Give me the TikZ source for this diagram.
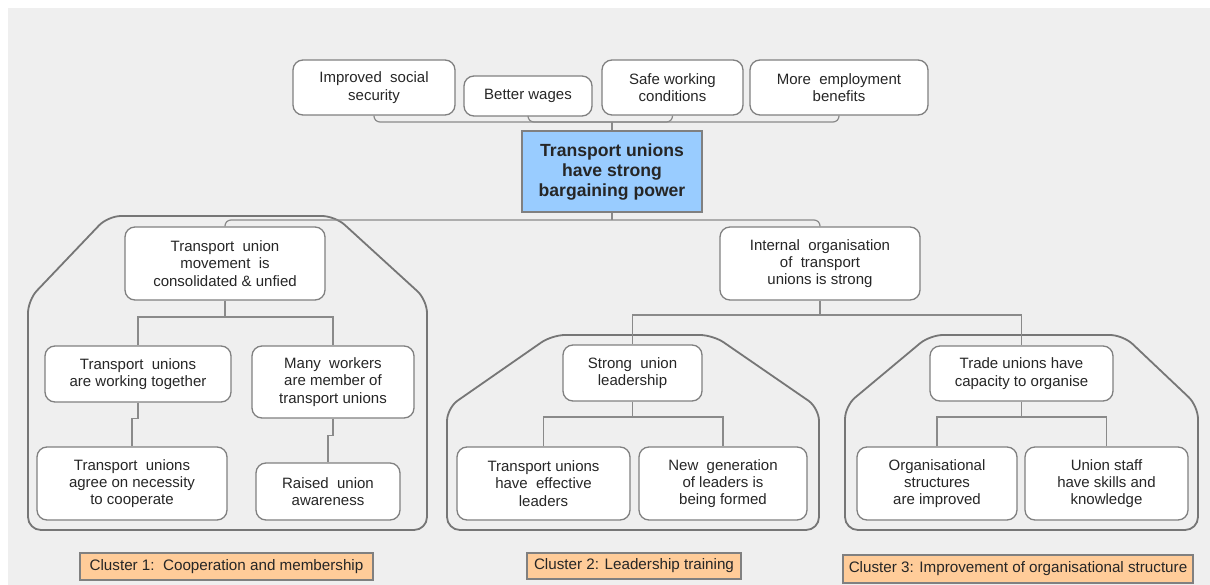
\documentclass[tikz,border=0pt]{standalone}
\usepackage{fontspec}
\setmainfont{Liberation Sans}
\definecolor{bgc}{HTML}{EFEFEF}
\definecolor{bord}{HTML}{808080}
\definecolor{linec}{HTML}{8A8A8A}
\definecolor{outl}{HTML}{767676}
\definecolor{txt}{HTML}{262626}
\definecolor{corefill}{HTML}{99CCFF}
\definecolor{labfill}{HTML}{FFCC99}
\tikzset{
  box/.style={draw=bord, line width=1.3pt, fill=white, rounded corners=10pt, align=center,
    inner sep=2pt, text=txt, font=\fontsize{15}{17.3}\selectfont},
  corebox/.style={draw=bord, line width=1.3pt, fill=corefill, align=center, inner sep=2pt,
    text=txt, font=\fontsize{17.6}{20}\selectfont\bfseries},
  labbox/.style={draw=bord, line width=1.3pt, fill=labfill, align=center, inner sep=2pt,
    text=txt, font=\fontsize{15.2}{17.3}\selectfont},
  conn/.style={draw=linec, line width=1.2pt},
  cluster/.style={draw=outl, line width=1.8pt, rounded corners=13pt}
}
\begin{document}
\begin{tikzpicture}[x=1pt,y=-1pt]
\useasboundingbox (0,0) rectangle (1210,585);
\fill[white] (0,0) rectangle (1210,585);
\fill[bgc] (8,8) rectangle (1210,585);

% cluster outlines
\draw[cluster] (28,530) -- (28,300) -- (108,216) -- (335,216) -- (427,300) -- (427,530) -- cycle;
\draw[cluster] (447,530) -- (447,408) -- (552,335) -- (713,335) -- (819,408) -- (819,530) -- cycle;
\draw[cluster] (845,530) -- (845,406) -- (930,335) -- (1123,335) -- (1198,406) -- (1198,530) -- cycle;

% top boxes
\node[box, minimum width=162, minimum height=55] (iss) at (374,87.5) {Improved\ \ social\\security};
\node[box, minimum width=128, minimum height=40] (bw) at (528,96) {Better wages};
\node[box, minimum width=141, minimum height=55] (swc) at (672.5,87.5) {Safe working\\conditions};
\node[box, minimum width=178, minimum height=55] (meb) at (839,87.5) {More\ \ employment\\benefits};

% core
\node[corebox, minimum width=180, minimum height=81] (core) at (612,171.5) {Transport unions\\have strong\\bargaining power};

% level 2
\node[box, minimum width=200, minimum height=73] (tum) at (225,263.5) {Transport\ \ union\\movement\ \ is\\consolidated \& unfied};
\node[box, minimum width=200, minimum height=73] (io) at (820,263.5) {Internal\ \ organisation\\of\ \ transport\\unions is strong};

% cluster 1
\node[box, minimum width=186, minimum height=56] (tuwt) at (138,374) {Transport\ \ unions\\are working together};
\node[box, minimum width=162, minimum height=72] (mw) at (333,382) {Many\ \ workers\\are member of\\transport unions};
\node[box, minimum width=190, minimum height=73] (tua) at (132,483.5) {Transport\ \ unions\\agree\ on\ necessity\\to cooperate};
\node[box, minimum width=144, minimum height=57] (rua) at (328,491.5) {Raised\ \ union\\awareness};

% cluster 2
\node[box, minimum width=139, minimum height=56] (sul) at (632.5,373) {Strong\ \ union\\leadership};
\node[box, minimum width=173, minimum height=73] (tue) at (543.5,483.5) {Transport unions\\have\ \ effective\\leaders};
\node[box, minimum width=168, minimum height=73] (ng) at (723,483.5) {New\ \ generation\\of leaders is\\being formed};

% cluster 3
\node[box, minimum width=183, minimum height=55] (tuc) at (1021.5,373.5) {Trade\ unions\ have\\capacity to organise};
\node[box, minimum width=160, minimum height=73] (os) at (937,483.5) {Organisational\\structures\\are improved};
\node[box, minimum width=163, minimum height=73] (us) at (1106.5,483.5) {Union staff\\have skills and\\knowledge};

% labels
\node[labbox, minimum width=293, minimum height=27] (lab1) at (226.5,566.5) {Cluster 1:\ \ Cooperation and membership};
\node[labbox, minimum width=214, minimum height=26] (lab2) at (634,566) {Cluster 2: Leadership training};
\node[labbox, minimum width=350, minimum height=28] (lab3) at (1018,569) {Cluster 3: Improvement of organisational structure};

% connectors top
\coordinate (tb) at (612,122);
\draw[conn, rounded corners=6pt] (iss.south) |- (tb) -| (meb.south);
\draw[conn, rounded corners=6pt] (bw.south) |- (tb);
\draw[conn, rounded corners=6pt] (swc.south) |- (tb);
\draw[conn] (tb) -- (core.north);

% level 2 connectors
\coordinate (mb) at (612,220);
\draw[conn, rounded corners=6pt] (tum.north) |- (mb) -| (io.north);
\draw[conn] (core.south) -- (mb);

% cluster 1 connectors
\coordinate (c1b) at (225,317);
\draw[conn] (tum.south) -- (c1b);
\draw[conn] (tuwt.north) |- (c1b) -| (mw.north);
\draw[conn] (tuwt.south) -- ++(0,16) -| (tua.north);
\draw[conn] (mw.south) -- ++(0,17) -| (rua.north);

% cluster 2/3 connectors
\coordinate (c23) at (820,315);
\draw[conn] (io.south) -- (c23);
\draw[conn] (sul.north) |- (c23) -| (tuc.north);
\coordinate (c2b) at (632.5,417);
\draw[conn] (sul.south) -- (c2b);
\draw[conn] (tue.north) |- (c2b) -| (ng.north);
\coordinate (c3b) at (1021.5,417);
\draw[conn] (tuc.south) -- (c3b);
\draw[conn] (os.north) |- (c3b) -| (us.north);
\end{tikzpicture}
\end{document}
